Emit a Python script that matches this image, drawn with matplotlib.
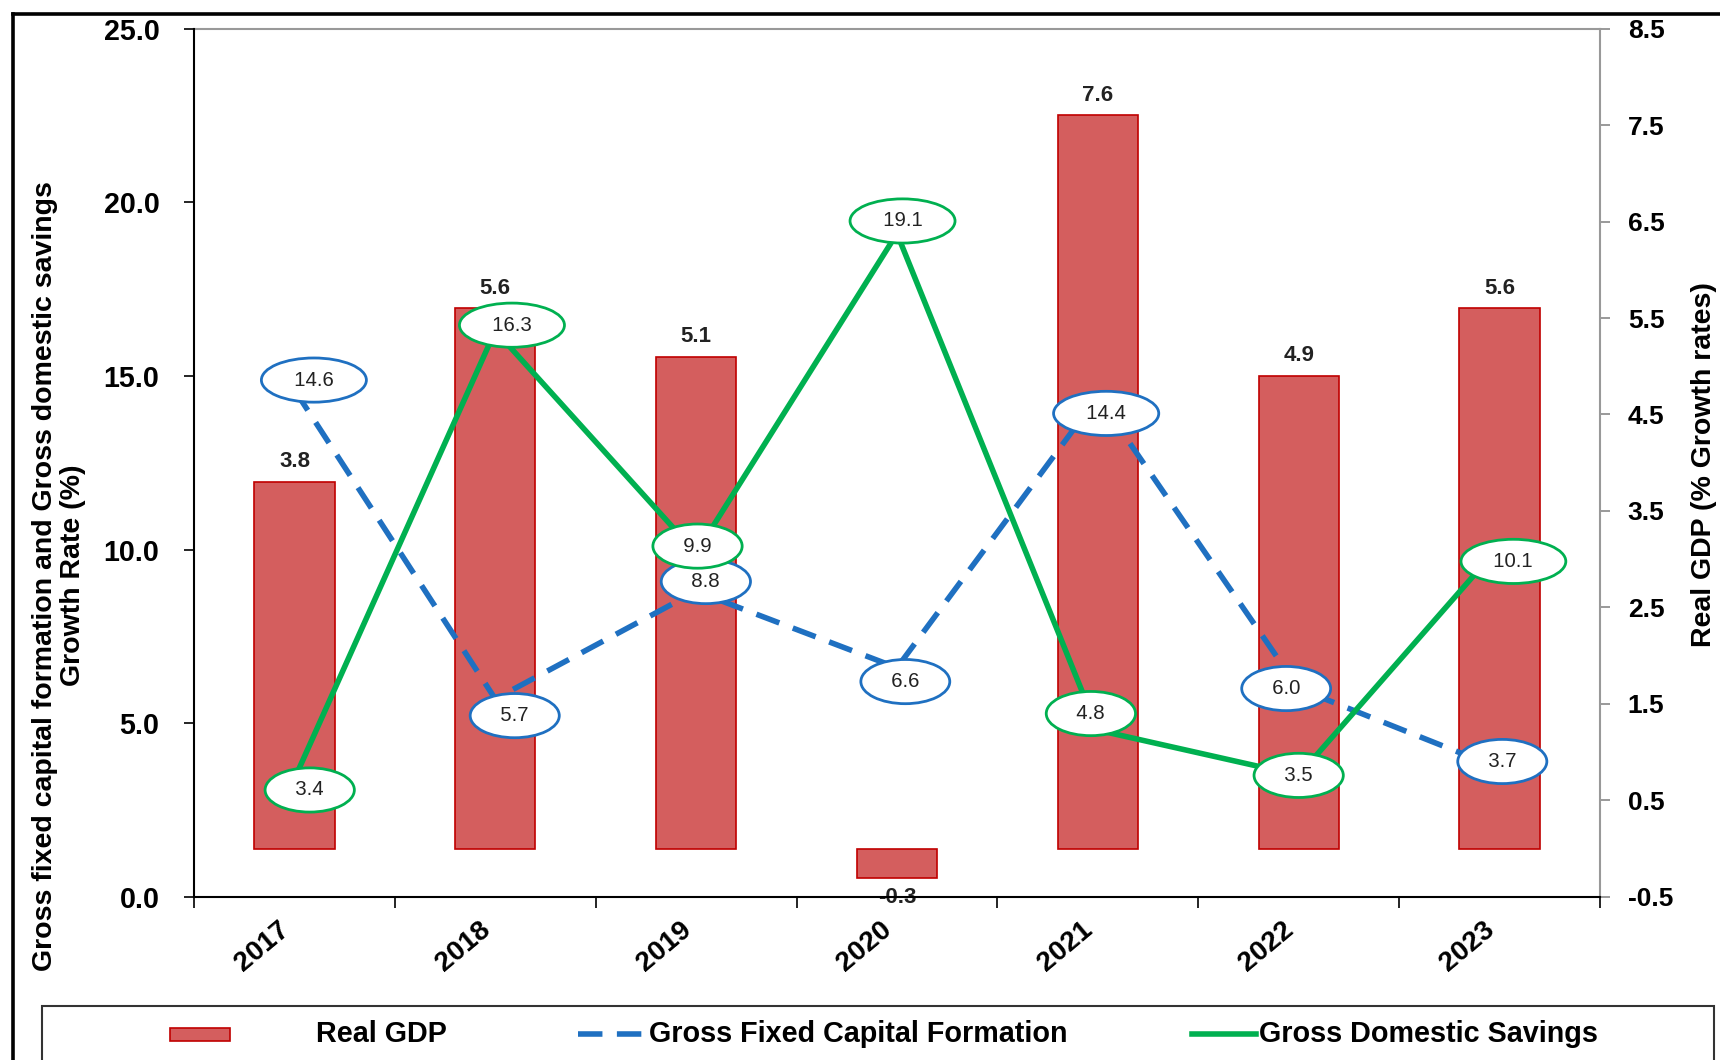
import numpy as np
import matplotlib
matplotlib.use("Agg")
from matplotlib import pyplot as plt
from matplotlib import font_manager
from matplotlib.patches import Rectangle
from matplotlib.lines import Line2D
from matplotlib.ticker import FormatStrFormatter

# ---------------- data ----------------
years = ["2017", "2018", "2019", "2020", "2021", "2022", "2023"]
real_gdp = [3.8, 5.6, 5.1, -0.3, 7.6, 4.9, 5.6]
gfcf = [14.6, 5.7, 8.8, 6.6, 14.4, 6.0, 3.7]
gds = [3.4, 16.3, 9.9, 19.1, 4.8, 3.5, 10.1]

# label offsets (points) for the ellipse call-outs
gfcf_off = [(14, 7), (14, -12), (7, 7), (6, -10), (6, -12), (-9, 0), (2, 5)]
gds_off = [(11, -8), (12, 4), (1, 5), (4, 9), (-5, 12), (0, 0), (10, -11)]

# ---------------- fonts ----------------
def has_font(name):
    try:
        font_manager.findfont(name, fallback_to_default=False)
        return True
    except Exception:
        return False

NARROW = "Liberation Sans Narrow" if has_font("Liberation Sans Narrow") else None
BASE = "Liberation Sans"
plt.rcParams["font.family"] = [BASE, "DejaVu Sans"]
nar = [NARROW, BASE] if NARROW else [BASE]
k = 1.0 if NARROW else 0.84   # shrink sizes when no narrow face

RED = "#D45E5E"
RED_EDGE = "#C00000"
BLUE = "#1F70C1"
GREEN = "#00B050"

fig = plt.figure(figsize=(17.2, 10.6), dpi=100)
ax = fig.add_axes([0.1128, 0.1538, 0.8174, 0.8193])
ax2 = ax.twinx()

x = np.arange(len(years))

# bars on the right axis
bars = ax2.bar(x, real_gdp, width=0.4, color=RED, edgecolor=RED_EDGE, linewidth=1.2)
ax2.set_ylim(-0.5, 8.5)
ax2.set_yticks(np.arange(-0.5, 8.6, 1.0))
ax2.yaxis.set_major_formatter(FormatStrFormatter("%.1f"))
ax2.bar_label(bars, fmt="%.1f", padding=7, fontsize=16, fontweight="bold", color="#222222")

# lines on the left axis
ax.set_zorder(ax2.get_zorder() + 1)
ax.patch.set_visible(False)
ax.plot(x, gfcf, color=BLUE, lw=4, dashes=(4.4, 2.6), dash_capstyle="butt")
ax.plot(x, gds, color=GREEN, lw=4, solid_joinstyle="miter")
ax.set_xlim(-0.5, len(years) - 0.5)
ax.set_ylim(0, 25)
ax.set_yticks(np.arange(0, 25.1, 5))
ax.yaxis.set_major_formatter(FormatStrFormatter("%.1f"))

for i in range(len(years)):
    ax.annotate("  " + "%.1f" % gfcf[i] + "  ", (x[i], gfcf[i]), xytext=gfcf_off[i],
                textcoords="offset points", ha="center", va="center",
                fontsize=17.5 * k, family=nar, color="#222222", zorder=10,
                bbox=dict(boxstyle="ellipse,pad=0.3", fc="white", ec=BLUE, lw=2))
    ax.annotate("  " + "%.1f" % gds[i] + "  ", (x[i], gds[i]), xytext=gds_off[i],
                textcoords="offset points", ha="center", va="center",
                fontsize=17.5 * k, family=nar, color="#222222", zorder=10,
                bbox=dict(boxstyle="ellipse,pad=0.3", fc="white", ec=GREEN, lw=2))

# x axis: boundary ticks + category labels
ax.set_xticks(np.arange(-0.5, len(years), 1.0))
ax.set_xticklabels([])
ax.tick_params(axis="x", which="major", length=8, width=1.2, direction="out", color="black")
ax.set_xticks(x, labels=years, minor=True)
ax.tick_params(axis="x", which="minor", length=0, pad=14)
for t in ax.get_xticklabels(minor=True):
    t.set_rotation(40)
    t.set_ha("right")
    t.set_va("top")
    t.set_fontsize(24 * k)
    t.set_fontweight("bold")
    t.set_family(nar)

ax.tick_params(axis="y", length=7, width=1.2, pad=18, labelsize=24.5 * k)
for t in ax.get_yticklabels():
    t.set_fontweight("bold")
    t.set_family(nar)
ax2.tick_params(axis="y", length=7, width=1.2, color="#888888", pad=13, labelsize=19)
for t in ax2.get_yticklabels():
    t.set_fontweight("bold")

for s in ["top", "right"]:
    ax.spines[s].set_visible(False)
ax.spines["left"].set_linewidth(1.5)
ax.spines["bottom"].set_linewidth(1.5)
ax2.spines["left"].set_visible(False)
ax2.spines["bottom"].set_visible(False)
ax2.spines["top"].set_color("#999999")
ax2.spines["right"].set_color("#999999")
ax2.spines["top"].set_linewidth(1.5)
ax2.spines["right"].set_linewidth(1.5)

# axis titles
fig.text(0.0345, 0.457, "Gross fixed capital formation and Gross domestic savings\nGrowth Rate (%)",
         rotation=90, ha="center", va="center", multialignment="center",
         fontsize=20.5, fontweight="bold", linespacing=1.1)
fig.text(0.9905, 0.562, "Real GDP (% Growth rates)", rotation=90, ha="center", va="center",
         fontsize=20.5, fontweight="bold")

# outer frame (top + left)
fig.add_artist(Line2D([13 / 1720, 1.0], [1 - 14 / 1060] * 2, color="black", lw=2.6,
                      transform=fig.transFigure))
fig.add_artist(Line2D([13 / 1720] * 2, [0, 1 - 14 / 1060], color="black", lw=2.6,
                      transform=fig.transFigure))

# legend box drawn by hand to match spacing
fig.add_artist(Rectangle((42 / 1720, -0.02), (1714 - 42) / 1720, 0.02 + 1 - 1006 / 1060,
                         transform=fig.transFigure, fill=False, ec="#333333", lw=1.5))
ly = 1 - 1034 / 1060
fig.add_artist(Rectangle((170 / 1720, ly - 6.5 / 1060), 60 / 1720, 13 / 1060,
                         transform=fig.transFigure, fc=RED, ec=RED_EDGE, lw=1.2))
fig.text(316 / 1720, ly, "Real GDP", ha="left", va="center", fontsize=24.6 * k,
         fontweight="bold", family=nar)
fig.add_artist(Line2D([578 / 1720, 647 / 1720], [ly, ly], color=BLUE, lw=4, dashes=(4.4, 2.6),
                      transform=fig.transFigure))
fig.text(649 / 1720, ly, "Gross Fixed Capital Formation", ha="left", va="center",
         fontsize=24.6 * k, fontweight="bold", family=nar)
fig.add_artist(Line2D([1192 / 1720, 1256 / 1720], [ly, ly], color=GREEN, lw=4,
                      transform=fig.transFigure))
fig.text(1259 / 1720, ly, "Gross Domestic Savings", ha="left", va="center",
         fontsize=24.6 * k, fontweight="bold", family=nar)

fig.savefig("out.png", dpi=100)
